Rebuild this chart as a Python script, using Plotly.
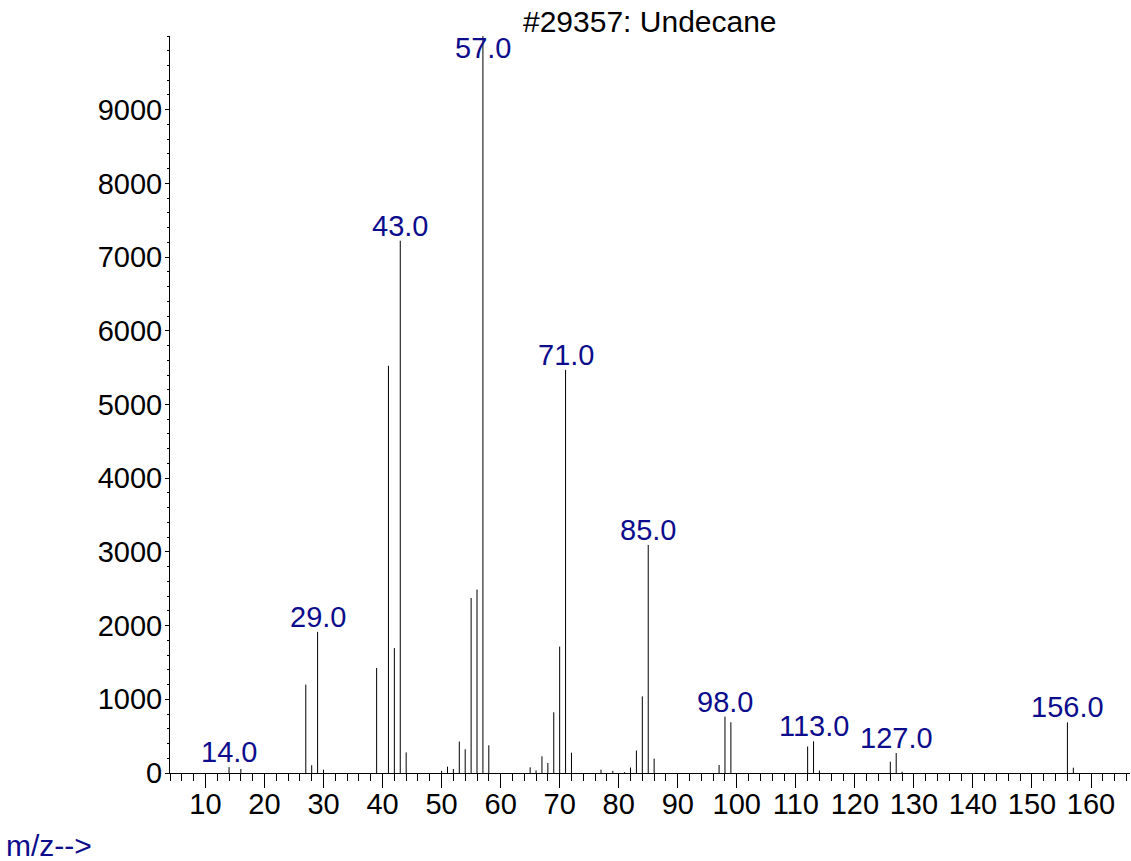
import plotly.graph_objects as go

# m/z values and abundances
mz = [14, 16, 27, 28, 29, 30, 39, 41, 42, 43, 44, 50, 51, 52, 53, 54, 55, 56, 57, 58,
      65, 66, 67, 68, 69, 70, 71, 72, 77, 79, 81, 82, 83, 84, 85, 86,
      97, 98, 99, 112, 113, 114, 126, 127, 128, 156, 157]
abundance = [80, 55, 1200, 105, 1915, 45, 1425, 5525, 1695, 7222, 280, 30, 86, 54, 426, 322, 2375, 2489, 9999, 376,
             77, 36, 226, 135, 824, 1715, 5470, 276, 45, 30, 12, 75, 305, 1040, 3095, 195,
             109, 766, 688, 360, 430, 34, 153, 271, 18, 687, 72]

labeled_mz = [14, 29, 43, 57, 71, 85, 98, 113, 127, 156]

title_text = "#29357: Undecane"
x_label = "m/z-->"

x_ticks = list(range(10, 170, 10))
y_ticks = list(range(0, 10000, 1000))

FONT = "Arial, 'Liberation Sans', sans-serif"
NAVY = "#0c0c8c"

L, R, T, B = 170, 1130, 36, 773  # plot area in pixels

# stems
xs, ys = [], []
for m, a in zip(mz, abundance):
    xs += [m, m, None]
    ys += [0, a, None]

fig = go.Figure()
fig.add_trace(go.Scatter(x=xs, y=ys, mode="lines",
                         line=dict(color="black", width=1),
                         hoverinfo="skip", showlegend=False))

lookup = dict(zip(mz, abundance))
for m in labeled_mz:
    a = lookup[m]
    fig.add_annotation(x=m, y=min(a, 9630), xref="x", yref="y",
                       text=f"{m:.1f}", showarrow=False,
                       yanchor="bottom", xanchor="center", yshift=-3,
                       font=dict(family=FONT, size=29, color=NAVY))

fig.add_annotation(x=0.5, y=1, xref="paper", yref="paper", text=title_text,
                   showarrow=False, yanchor="bottom", xanchor="center", yshift=-4,
                   font=dict(family=FONT, size=30, color="black"))

fig.add_annotation(x=(4 - L) / (R - L), y=(B - 845) / (B - T), xref="paper", yref="paper",
                   text=x_label, showarrow=False, xanchor="left", yanchor="middle",
                   font=dict(family=FONT, size=30, color=NAVY))

fig.update_layout(
    width=1131, height=861,
    margin=dict(l=L, r=1131 - R, t=T, b=861 - B, autoexpand=False),
    paper_bgcolor="white", plot_bgcolor="white",
    font=dict(family=FONT, size=29, color="black"),
    showlegend=False,
)
fig.update_xaxes(range=[4, 166.6], tickvals=x_ticks, ticktext=[str(v) for v in x_ticks],
                 automargin=False, ticklabelstandoff=-9,
                 showgrid=False, zeroline=False, showline=True, linecolor="black", linewidth=1,
                 ticks="outside", ticklen=14, tickwidth=1, tickcolor="black",
                 minor=dict(dtick=2, tick0=0, ticks="outside", ticklen=7, tickcolor="black", tickwidth=1, showgrid=False),
                 tickfont=dict(family=FONT, size=29, color="black"))
fig.update_yaxes(range=[0, 10000], tickvals=y_ticks, ticktext=[str(v) for v in y_ticks],
                 automargin=False, ticklabelstandoff=-3,
                 showgrid=False, zeroline=False, showline=True, linecolor="black", linewidth=1,
                 ticks="outside", ticklen=4, tickwidth=1, tickcolor="black",
                 minor=dict(dtick=200, tick0=0, ticks="outside", ticklen=2, tickcolor="black", tickwidth=1, showgrid=False),
                 tickfont=dict(family=FONT, size=29, color="black"))

fig.write_html("out.html", config={"displayModeBar": False},
               post_script="document.body.style.margin='0';document.body.style.overflow='hidden';")
